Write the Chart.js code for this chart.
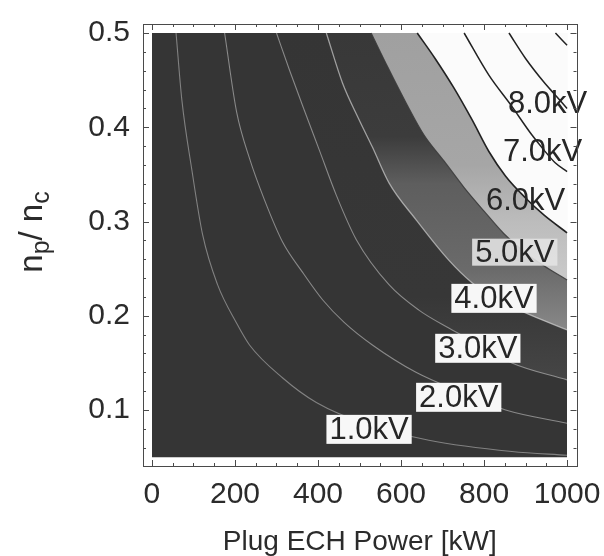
<!DOCTYPE html>
<html><head><meta charset="utf-8">
<script src="https://cdn.jsdelivr.net/npm/chart.js@4.4.1/dist/chart.umd.min.js"></script>
<style>html,body{margin:0;padding:0;background:#fff;}#wrap{width:604px;height:556px;}</style>
</head><body><div id="wrap"><canvas id="c" width="604" height="556"></canvas></div>
<script>
// ---- data ----
const xMajor = [0, 200, 400, 600, 800, 1000];
const yMajor = [0.1, 0.2, 0.3, 0.4, 0.5];
const xMinor = [0,50,100,150,200,250,300,350,400,450,500,550,600,650,700,750,800,850,900,950,1000];
const yMinor = [0.06,0.08,0.1,0.12,0.14,0.16,0.18,0.2,0.22,0.24,0.26,0.28,0.3,0.32,0.34,0.36,0.38,0.4,0.42,0.44,0.46,0.48,0.5];

const basePower = [0, 1000];
const baseRatio = [0.05, 0.05];

const kv1Power = [58, 72, 96, 122, 158, 204, 235, 315, 396, 523, 667, 867, 1000];
const kv1Ratio = [0.5, 0.429, 0.355, 0.286, 0.233, 0.192, 0.169, 0.134, 0.108, 0.084, 0.068, 0.056, 0.052];
const kv2Power = [175, 204, 235, 271, 315, 363, 411, 463, 531, 636, 744, 852, 1000];
const kv2Ratio = [0.5, 0.416, 0.367, 0.323, 0.278, 0.246, 0.217, 0.193, 0.169, 0.140, 0.119, 0.100, 0.086];
const kv3Power = [300, 331, 367, 403, 444, 492, 571, 643, 715, 790, 867, 1000];
const kv3Ratio = [0.5, 0.461, 0.418, 0.376, 0.328, 0.281, 0.233, 0.206, 0.187, 0.169, 0.150, 0.132];
const kv4Power = [420, 459, 499, 531, 571, 636, 715, 771, 824, 900, 1000];
const kv4Ratio = [0.5, 0.447, 0.408, 0.379, 0.341, 0.302, 0.259, 0.235, 0.219, 0.203, 0.185];
const kv5Power = [528, 569, 612, 655, 704, 752, 800, 848, 896, 944, 1000];
const kv5Ratio = [0.5, 0.463, 0.426, 0.392, 0.364, 0.336, 0.311, 0.287, 0.268, 0.253, 0.238];
const kv6Power = [639, 682, 727, 771, 812, 852, 900, 944, 1000];
const kv6Ratio = [0.5, 0.473, 0.442, 0.408, 0.374, 0.348, 0.325, 0.307, 0.288];
const kv7Power = [752, 812, 864, 915, 944, 972, 1000];
const kv7Ratio = [0.5, 0.455, 0.424, 0.392, 0.376, 0.362, 0.353];
const kv8Power = [860, 900, 944, 972, 1000];
const kv8Ratio = [0.5, 0.473, 0.448, 0.434, 0.420];
const kv9Power = [972, 1000];
const kv9Ratio = [0.5, 0.487];

const labelText  = ['1.0kV', '2.0kV', '3.0kV', '4.0kV', '5.0kV', '6.0kV', '7.0kV', '8.0kV'];
const labelPower = [523, 739, 785, 824, 874, 900, 941, 953];
const labelRatio = [0.080, 0.114, 0.166, 0.219, 0.268, 0.323, 0.375, 0.426];

const xTitle = 'Plug ECH Power [kW]';

// ---- helpers ----
const pts = (xs, ys) => xs.map((x, i) => ({x: x, y: ys[i]}));
const SANS = '"Liberation Sans", Arial, Helvetica, sans-serif';

function vGrad(stops, fallback) {
  return (ctx) => {
    const chart = ctx.chart;
    const ys = chart.scales && chart.scales.y;
    if (!chart.chartArea || !ys) return fallback;
    const y0 = ys.getPixelForValue(0.5), y1 = ys.getPixelForValue(0.05);
    const g = chart.ctx.createLinearGradient(0, y0, 0, y1);
    stops.forEach(s => g.addColorStop(Math.min(1, Math.max(0, (0.5 - s[0]) / 0.45)), s[1]));
    return g;
  };
}

function band(xs, ys, bg, order) {
  return {data: pts(xs, ys), showLine: true, pointRadius: 0, borderWidth: 0,
    borderColor: 'rgba(0,0,0,0)', backgroundColor: bg, fill: {value: 0.5},
    cubicInterpolationMode: 'monotone', order: order};
}
function line(xs, ys, color, w) {
  return {data: pts(xs, ys), showLine: true, pointRadius: 0, borderWidth: w,
    borderColor: color, fill: false, cubicInterpolationMode: 'monotone', order: 1};
}

const datasets = [
  band(basePower, baseRatio, '#353535', 30),
  band(kv3Power, kv3Ratio, vGrad([[0.5,'#353535'],[0.22,'#373737'],[0.13,'#464646']], '#363636'), 29),
  band(kv4Power, kv4Ratio, vGrad([[0.5,'#383838'],[0.39,'#3c3c3c'],[0.34,'#5e5e5e'],[0.25,'#6a6a6a'],[0.19,'#868686']], '#555'), 28),
  band(kv5Power, kv5Ratio, vGrad([[0.5,'#a0a0a0'],[0.36,'#a6a6a6'],[0.30,'#bcbcbc'],[0.24,'#cacaca']], '#aaa'), 27),
  band(kv6Power, kv6Ratio, '#fbfbfb', 26),
  line(kv1Power, kv1Ratio, 'rgba(205,205,205,0.5)', 1.1),
  line(kv2Power, kv2Ratio, 'rgba(205,205,205,0.55)', 1.1),
  line(kv3Power, kv3Ratio, 'rgba(205,205,205,0.55)', 1.1),
  line(kv4Power, kv4Ratio, 'rgba(215,215,215,0.65)', 1.3),
  line(kv5Power, kv5Ratio, 'rgba(60,60,60,0.9)', 1.2),
  line(kv6Power, kv6Ratio, '#222', 1.6),
  line(kv7Power, kv7Ratio, '#222', 1.5),
  line(kv8Power, kv8Ratio, '#222', 1.5),
  line(kv9Power, kv9Ratio, '#222', 1.5)
];

const overlay = {
  id: 'overlay',
  afterDatasetsDraw(chart) {
    const ctx = chart.ctx, xs = chart.scales.x, ys = chart.scales.y;
    ctx.save();
    ctx.font = '31px ' + SANS;
    ctx.textAlign = 'center';
    ctx.textBaseline = 'middle';
    labelText.forEach((t, i) => {
      const px = xs.getPixelForValue(labelPower[i]);
      const py = ys.getPixelForValue(labelRatio[i]);
      const w = ctx.measureText(t).width + 6;
      if (i < 4) { ctx.fillStyle = '#f7f7f7'; ctx.fillRect(px - w / 2, py - 14, w, 29); }
      else if (i === 4) { ctx.fillStyle = 'rgba(226,226,226,0.9)'; ctx.fillRect(px - w / 2, py - 13, w, 27); }
      ctx.fillStyle = '#262626';
      ctx.fillText(t, px, py + 2);
    });
    ctx.restore();
  },
  afterDraw(chart) {
    const ctx = chart.ctx, xs = chart.scales.x, ys = chart.scales.y;
    const a = chart.chartArea;
    ctx.save();
    ctx.strokeStyle = '#4a4a4a';
    ctx.lineWidth = 1;
    ctx.strokeRect(Math.round(a.left) + 0.5, Math.round(a.top) + 0.5, Math.round(a.right - a.left), Math.round(a.bottom - a.top));
    ctx.beginPath();
    xMinor.forEach(v => {
      const p = Math.round(xs.getPixelForValue(v)) + 0.5;
      const L = xMajor.includes(v) ? 6 : 3;
      ctx.moveTo(p, a.bottom); ctx.lineTo(p, a.bottom - L);
      ctx.moveTo(p, a.top); ctx.lineTo(p, a.top + L);
    });
    yMinor.forEach(v => {
      const p = Math.round(ys.getPixelForValue(v)) + 0.5;
      const L = yMajor.some(m => Math.abs(m - v) < 1e-9) ? 6 : 3;
      ctx.moveTo(a.left, p); ctx.lineTo(a.left + L, p);
      ctx.moveTo(a.right, p); ctx.lineTo(a.right - L, p);
    });
    ctx.stroke();
    // y axis title n_p / n_c
    ctx.translate(42, 232);
    ctx.rotate(-Math.PI / 2);
    ctx.fillStyle = '#2b2b2b';
    ctx.textBaseline = 'alphabetic';
    const parts = [['n', 33, 0], ['p', 25, 7], ['/ ', 33, 0], ['n', 33, 0], ['c', 25, 7]];
    let total = 0;
    parts.forEach(p => { ctx.font = p[1] + 'px ' + SANS; total += ctx.measureText(p[0]).width; });
    let x = -total / 2;
    parts.forEach(p => { ctx.font = p[1] + 'px ' + SANS; ctx.fillText(p[0], x, p[2]); x += ctx.measureText(p[0]).width; });
    ctx.restore();
  }
};

new Chart(document.getElementById('c'), {
  type: 'scatter',
  data: {datasets: datasets},
  options: {
    responsive: false, animation: false, events: [],
    layout: {padding: {top: 24, right: 26, left: 0, bottom: 0}},
    plugins: {legend: {display: false}, tooltip: {enabled: false}},
    scales: {
      x: {
        type: 'linear', position: 'bottom', min: -21.6, max: 1022.8,
        grid: {display: false}, border: {display: false},
        afterBuildTicks: s => { s.ticks = xMajor.map(v => ({value: v})); },
        afterFit: s => { s.height = 90; },
        ticks: {color: '#2b2b2b', font: {family: SANS, size: 30}, padding: 3, maxRotation: 0, autoSkip: false,
          callback: v => String(v)},
        title: {display: true, text: xTitle, color: '#2b2b2b', font: {family: SANS, size: 28}, padding: {top: 0, bottom: -3}}
      },
      y: {
        type: 'linear', min: 0.0406, max: 0.50955,
        grid: {display: false}, border: {display: false},
        afterBuildTicks: s => { s.ticks = yMajor.map(v => ({value: v})); },
        afterFit: s => { s.width = 143; },
        ticks: {color: '#2b2b2b', font: {family: SANS, size: 30}, padding: 5, autoSkip: false,
          callback: v => v.toFixed(1)}
      }
    }
  },
  plugins: [overlay]
});
</script>
</body></html>
